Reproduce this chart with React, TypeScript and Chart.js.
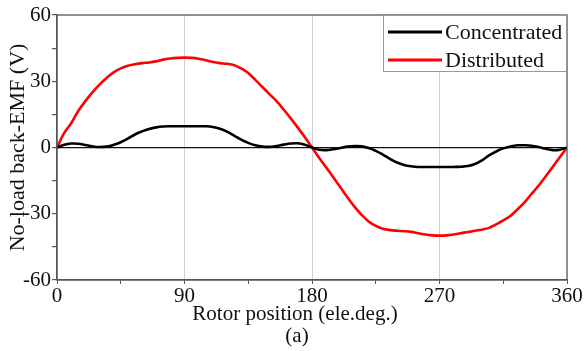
import { useEffect, useRef } from "react";
import { Chart, registerables } from "chart.js";

Chart.register(...registerables);

// Rotor position samples (electrical degrees)
const rotorPosition = [
  0, 5, 10, 15, 20, 25, 30, 35, 40, 45, 50, 55, 60, 65, 70, 75, 80, 85, 90,
  95, 100, 105, 110, 115, 120, 125, 130, 135, 140, 145, 150, 155, 160, 165, 170, 175, 180,
  185, 190, 195, 200, 205, 210, 215, 220, 225, 230, 235, 240, 245, 250, 255, 260, 265, 270,
  275, 280, 285, 290, 295, 300, 305, 310, 315, 320, 325, 330, 335, 340, 345, 350, 355, 360,
];

// No-load back-EMF, concentrated winding (V)
const concentrated = [
  0, 1.2, 1.8, 1.7, 1.1, 0.5, 0.2, 0.4, 1.2, 2.4, 4.0, 5.9, 7.3, 8.4, 9.1, 9.5, 9.6, 9.6, 9.6,
  9.6, 9.6, 9.6, 9.3, 8.5, 7.2, 5.4, 3.6, 2.1, 1.0, 0.4, 0.3, 0.7, 1.3, 1.8, 1.9, 1.3, 0,
  -1.0, -1.2, -0.8, -0.2, 0.4, 0.7, 0.5, -0.2, -1.5, -3.2, -5.1, -6.8, -7.9, -8.5, -8.8, -8.8, -8.8, -8.8,
  -8.8, -8.8, -8.7, -8.4, -7.5, -5.8, -3.6, -1.8, -0.4, 0.5, 1.0, 1.0, 0.8, 0.2, -0.6, -1.2, -1.0, 0,
];

// No-load back-EMF, distributed winding (V)
const distributed = [
  0, 6.5, 11, 16.5, 21, 25, 28.5, 31.5, 34, 35.8, 37, 37.7, 38.2, 38.5, 39, 39.8, 40.3, 40.6, 40.7,
  40.6, 40.2, 39.5, 38.7, 38.2, 37.9, 37.3, 35.8, 33.7, 30.6, 27.4, 24.2, 21, 17.2, 13.2, 9, 4.6, 0,
  -4.6, -9, -13.5, -18, -22.5, -26.8, -30.5, -33.5, -35.5, -36.8, -37.4, -37.7, -37.9, -38.2, -38.8, -39.4, -39.8, -39.9,
  -39.8, -39.4, -38.8, -38.3, -37.7, -37.2, -36.4, -34.8, -33, -31, -28, -24.8, -21, -17.2, -13, -8.7, -4.3, 0,
];

const seriesLabels = ["Concentrated", "Distributed"];
const seriesColors = ["#000000", "#ff0000"];

const xTitle = "Rotor position (ele.deg.)";
const yTitle = "No-load back-EMF (V)";
const caption = "(a)";

const FONT = "'Liberation Serif', 'Times New Roman', serif";

// Closes the plot frame on the top and right sides
const framePlugin = {
  id: "frame",
  afterDraw(chart: any) {
    const { ctx, chartArea: a } = chart;
    ctx.save();
    ctx.strokeStyle = "#555555";
    ctx.lineWidth = 1.3;
    ctx.strokeRect(a.left, a.top, a.right - a.left, a.bottom - a.top);
    ctx.restore();
  },
};

// Boxed legend in the top-right corner of the plot
const legendBoxPlugin = {
  id: "legendBox",
  afterDraw(chart: any) {
    const { ctx, chartArea: a } = chart;
    const boxW = 184;
    const boxH = 57;
    const left = a.right - boxW;
    const top = a.top;
    ctx.save();
    ctx.fillStyle = "#ffffff";
    ctx.fillRect(left, top, boxW, boxH);
    ctx.strokeStyle = "#999999";
    ctx.lineWidth = 1;
    ctx.strokeRect(left + 0.5, top + 0.5, boxW - 1, boxH - 1);
    ctx.font = `22px ${FONT}`;
    ctx.textBaseline = "middle";
    ctx.textAlign = "left";
    chart.data.datasets.forEach((ds: any, i: number) => {
      const y = top + 17 + i * 28;
      ctx.strokeStyle = ds.borderColor;
      ctx.lineWidth = 3;
      ctx.beginPath();
      ctx.moveTo(left + 5, y);
      ctx.lineTo(left + 59, y);
      ctx.stroke();
      ctx.fillStyle = "#111111";
      ctx.fillText(ds.label, left + 62, y + 1);
    });
    ctx.restore();
  },
};

// Horizontal axis title and sub-figure caption
const captionPlugin = {
  id: "captions",
  afterDraw(chart: any) {
    const { ctx, chartArea: a } = chart;
    const cx = (a.left + a.right) / 2 - 17;
    ctx.save();
    ctx.fillStyle = "#111111";
    ctx.font = `21px ${FONT}`;
    ctx.textAlign = "center";
    ctx.textBaseline = "middle";
    ctx.fillText(xTitle, cx, a.bottom + 34);
    ctx.fillText(caption, cx + 2, a.bottom + 56);
    ctx.restore();
  },
};

export default function App() {
  const canvasRef = useRef<HTMLCanvasElement | null>(null);

  useEffect(() => {
    const canvas = canvasRef.current;
    if (!canvas) return;

    const toPoints = (values: number[]) =>
      rotorPosition.map((x, i) => ({ x, y: values[i] }));

    const chart = new Chart(canvas, {
      type: "line",
      data: {
        datasets: [
          {
            label: seriesLabels[0],
            data: toPoints(concentrated),
            borderColor: seriesColors[0],
            backgroundColor: seriesColors[0],
            borderWidth: 2.6,
            pointRadius: 0,
            tension: 0.4,
          },
          {
            label: seriesLabels[1],
            data: toPoints(distributed),
            borderColor: seriesColors[1],
            backgroundColor: seriesColors[1],
            borderWidth: 2.6,
            pointRadius: 0,
            tension: 0.4,
          },
        ],
      },
      options: {
        animation: false,
        responsive: false,
        maintainAspectRatio: false,
        layout: { padding: { top: 15, right: 20, left: 0, bottom: 0 } },
        plugins: {
          legend: { display: false },
          tooltip: { enabled: false },
        },
        scales: {
          x: {
            type: "linear",
            min: 0,
            max: 360,
            afterFit: (scale: any) => {
              scale.height = 71;
            },
            ticks: {
              stepSize: 45,
              autoSkip: false,
              maxRotation: 0,
              padding: 0,
              color: "#111111",
              font: { family: FONT, size: 21 },
              callback: (v: any) => (Number(v) % 90 === 0 ? String(v) : ""),
            },
            grid: {
              color: (c: any) =>
                c.tick && c.tick.value % 90 === 0 && c.tick.value > 0 && c.tick.value < 360
                  ? "#d0d0d0"
                  : "rgba(0,0,0,0)",
              lineWidth: 1,
              tickColor: "#555555",
              tickLength: 4,
            },
            border: { color: "#555555", width: 1.3 },
          },
          y: {
            min: -60,
            max: 60,
            afterFit: (scale: any) => {
              scale.width = 57;
            },
            ticks: {
              stepSize: 15,
              autoSkip: false,
              padding: 1,
              color: "#111111",
              font: { family: FONT, size: 21 },
              callback: (v: any) => (Number(v) % 30 === 0 ? String(v) : ""),
            },
            grid: {
              color: (c: any) =>
                c.tick && c.tick.value === 0 ? "#111111" : "rgba(0,0,0,0)",
              lineWidth: 1.2,
              tickColor: "#555555",
              tickLength: 5,
            },
            border: { color: "#555555", width: 1.3 },
            title: {
              display: true,
              text: yTitle,
              color: "#111111",
              font: { family: FONT, size: 22 },
              padding: { top: 5, bottom: 0 },
            },
          },
        },
      },
      plugins: [framePlugin, legendBoxPlugin, captionPlugin],
    });

    return () => chart.destroy();
  }, []);

  return (
    <div style={{ position: "absolute", left: 0, top: 0, width: 587, height: 351, background: "#ffffff" }}>
      <canvas ref={canvasRef} width={587} height={351} style={{ width: 587, height: 351 }} />
    </div>
  );
}
